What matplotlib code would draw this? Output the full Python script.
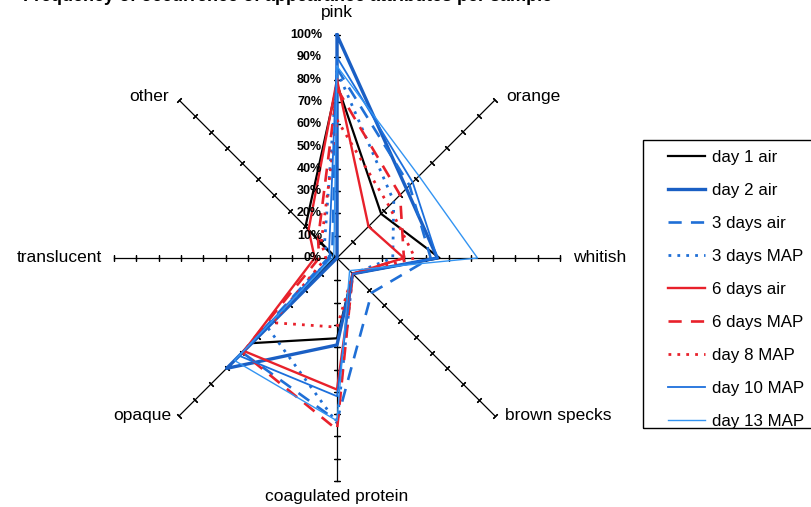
import numpy as np
import matplotlib.pyplot as plt
from matplotlib.patches import Rectangle

plt.rcParams['font.family'] = ['Liberation Sans', 'DejaVu Sans']

# categories clockwise from the top
cats = ['pink', 'orange', 'whitish', 'brown specks', 'coagulated protein',
        'opaque', 'translucent', 'other']
pct_ticks = [0, 10, 20, 30, 40, 50, 60, 70, 80, 90, 100]

# values in %
day1_air = [78, 28, 46, 10, 36, 54, 1, 20]
day2_air = [100, 44, 45, 10, 39, 70, 0, 0]
days3_air = [85, 46, 42, 22, 73, 60, 4, 3]
days3_map = [84, 36, 25, 10, 74, 44, 3, 8]
days6_air = [80, 20, 30, 10, 59, 59, 10, 18]
days6_map = [76, 40, 30, 10, 77, 60, 8, 12]
day8_map = [62, 33, 35, 10, 31, 41, 5, 10]
day10_map = [90, 48, 45, 10, 62, 62, 3, 5]
day13_map = [86, 52, 63, 8, 73, 65, 2, 2]

series = [
    ('day 1 air', day1_air, dict(color='black', lw=1.6, ls='-')),
    ('day 2 air', day2_air, dict(color='#1a5fc4', lw=2.4, ls='-')),
    ('3 days air', days3_air, dict(color='#1f6fd6', lw=1.9, ls=(0, (5, 3.5)))),
    ('3 days MAP', days3_map, dict(color='#1f6fd6', lw=2.0, ls=(0, (1, 2.2)))),
    ('6 days air', days6_air, dict(color='#e8212b', lw=1.7, ls='-')),
    ('6 days MAP', days6_map, dict(color='#e8212b', lw=1.9, ls=(0, (5, 3.5)))),
    ('day 8 MAP', day8_map, dict(color='#e8212b', lw=2.0, ls=(0, (1, 2.2)))),
    ('day 10 MAP', day10_map, dict(color='#1c6fdc', lw=1.3, ls='-')),
    ('day 13 MAP', day13_map, dict(color='#3394f2', lw=1.0, ls='-')),
]

theta = np.deg2rad(90 - 45 * np.arange(len(cats)))

fig = plt.figure(figsize=(8.12, 5.07), dpi=100)
ax = fig.add_axes([114 / 812, 26 / 507, 446 / 812, 446 / 507], projection='polar')
ax.set_axis_off()
ax.set_ylim(0, 100)

# radial axes with tick marks
for th in theta:
    ax.plot([th, th], [0, 100], color='black', lw=0.9, clip_on=False, zorder=1)
    ax.plot([th] * 10, pct_ticks[1:], ls='none', marker=(2, 2, np.rad2deg(th)),
            ms=4.5, mew=0.9, color='black', clip_on=False, zorder=1)

# percentage labels on the pink axis
for v in pct_ticks:
    ax.annotate(f'{v}%', xy=(np.pi / 2, v), xytext=(-15, 0), textcoords='offset pixels',
                ha='right', va='center', fontsize=9, fontweight='bold', zorder=5)

# category labels
offs = [(0, 23, 'center'), (12, 4, 'left'), (13, 0, 'left'), (10, 0, 'left'),
        (0, -15, 'center'), (-8, 0, 'right'), (-12, 0, 'right'), (-10, 4, 'right')]
for th, name, (dx, dy, ha) in zip(theta, cats, offs):
    ax.annotate(name, xy=(th, 100), xytext=(dx, dy), textcoords='offset pixels',
                ha=ha, va='center', fontsize=12.5, annotation_clip=False)

handles = []
for label, vals, st in series:
    ln, = ax.plot(np.append(theta, theta[0]), vals + vals[:1], label=label,
                  clip_on=False, zorder=3, **st)
    handles.append(ln)

fig.legend(handles=handles, loc='upper left', bbox_to_anchor=(668 / 812, 1 - 150 / 507),
           frameon=False, fontsize=12.2, borderpad=0, borderaxespad=0,
           handlelength=2.2, handletextpad=0.4, labelspacing=1.06)
fig.add_artist(Rectangle((643 / 812, 1 - 428 / 507), 180 / 812, 288 / 507,
                         transform=fig.transFigure, fill=False, ec='black', lw=1))

# title, cut off by the top edge
fig.text(23 / 812, 1 - 1 / 507, 'Frequency of occurrence of appearance attributes per sample',
         ha='left', va='baseline', fontsize=13, fontweight='bold')

fig.savefig('out.png', dpi=100)
